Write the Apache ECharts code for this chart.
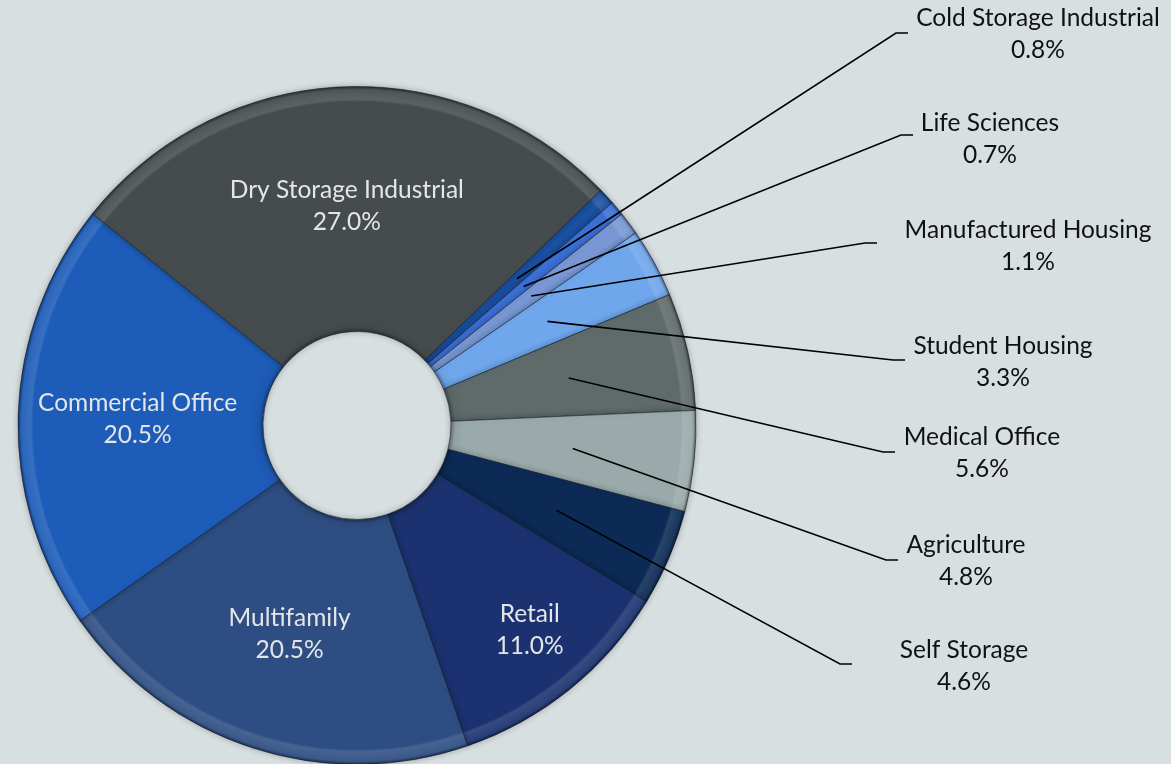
<!DOCTYPE html>
<html>
<head>
<meta charset="utf-8">
<script src="https://cdn.jsdelivr.net/npm/echarts@6/dist/echarts.min.js"></script>
<style>
  html, body { margin: 0; padding: 0; background: #d8dfe1; }
  #chart { width: 1171px; height: 764px; }
</style>
</head>
<body>
<div id="chart"></div>
<script>
// ---- data ----
const categories = ['Cold Storage Industrial', 'Life Sciences', 'Manufactured Housing', 'Student Housing',
  'Medical Office', 'Agriculture', 'Self Storage', 'Retail', 'Multifamily', 'Commercial Office', 'Dry Storage Industrial'];
const values = [0.8, 0.7, 1.1, 3.3, 5.6, 4.8, 4.6, 11.0, 20.5, 20.5, 27.0];

// ---- style / layout ----
const sliceColors = ['#1b51a3', '#3b70d8', '#7897d4', '#6fa6ec', '#5f6a6b', '#9aa9aa', '#0c2a55',
  '#1c3270', '#2e4e83', '#1d5cb9', '#464c4e'];
const insideNames = ['Retail', 'Multifamily', 'Commercial Office', 'Dry Storage Industrial'];
const CX = 357, CY = 425.5, R_IN = 94, R_OUT = 339;
const LINE_START_R = 217;
// outside label anchors: text block centre, line end x and y
const outsideLabelPos = {
  'Cold Storage Industrial': { cx: 1038, cy: 34, endX: 908, lineY: 33 },
  'Life Sciences': { cx: 990, cy: 139, endX: 913, lineY: 135 },
  'Manufactured Housing': { cx: 1028, cy: 246, endX: 877, lineY: 243 },
  'Student Housing': { cx: 1003, cy: 362, endX: 905, lineY: 360 },
  'Medical Office': { cx: 982, cy: 453, endX: 895, lineY: 452 },
  'Agriculture': { cx: 966, cy: 561, endX: 898, lineY: 560 },
  'Self Storage': { cx: 964, cy: 666, endX: 852, lineY: 664 }
};
const insideLabelShift = { 'Retail': { scale: 1.21, dx: 6, dy: -2 } };

function shade(hex, amt) {
  const n = parseInt(hex.slice(1), 16);
  let r = (n >> 16) & 255, g = (n >> 8) & 255, b = n & 255;
  const f = c => Math.max(0, Math.min(255, Math.round(amt >= 0 ? c + (255 - c) * amt : c * (1 + amt))));
  return 'rgb(' + f(r) + ',' + f(g) + ',' + f(b) + ')';
}
function bevel(hex) {
  const k = R_IN / R_OUT;
  return {
    type: 'radial', x: CX, y: CY, r: R_OUT, global: true,
    colorStops: [
      { offset: 0, color: shade(hex, -0.35) },
      { offset: k, color: shade(hex, -0.35) },
      { offset: k + 0.012, color: shade(hex, -0.05) },
      { offset: k + 0.04, color: hex },
      { offset: 0.955, color: hex },
      { offset: 0.962, color: shade(hex, 0.12) },
      { offset: 0.99, color: shade(hex, 0.06) },
      { offset: 1, color: shade(hex, -0.4) }
    ]
  };
}

const chart = echarts.init(document.getElementById('chart'), null, { renderer: 'canvas' });

const sliceData = categories.map((name, i) => ({
  name: name,
  value: values[i],
  itemStyle: { color: bevel(sliceColors[i]) }
}));

const labelData = categories.map((name, i) => {
  const inside = insideNames.indexOf(name) >= 0;
  return {
    name: name,
    value: values[i],
    label: inside
      ? { position: 'inside', color: '#e3e6e7' }
      : { position: 'outside', color: '#111111' },
    labelLine: { show: !inside }
  };
});

chart.setOption({
  backgroundColor: '#d8dfe1',
  animation: false,
  series: [{
    type: 'pie',
    z: 1,
    center: [CX, CY],
    radius: [R_IN, R_OUT],
    startAngle: 44,
    clockwise: true,
    silent: true,
    itemStyle: {
      borderColor: 'rgba(15,25,35,0.55)',
      borderWidth: 1,
      shadowBlur: 6,
      shadowColor: 'rgba(0,0,0,0.25)'
    },
    label: { show: false },
    labelLine: { show: false },
    data: sliceData
  }, {
    type: 'pie',
    z: 3,
    center: [CX, CY],
    radius: [R_IN, R_OUT],
    startAngle: 44,
    clockwise: true,
    silent: true,
    avoidLabelOverlap: false,
    itemStyle: { color: 'rgba(0,0,0,0)', borderWidth: 0 },
    label: {
      show: true,
      fontFamily: 'Lato, "Open Sans", sans-serif',
      fontSize: 24.5,
      lineHeight: 32,
      align: 'center',
      formatter: p => p.name + '\n' + p.value.toFixed(1) + '%'
    },
    labelLine: {
      length: 10,
      length2: 10,
      lineStyle: { color: '#000000', width: 1.6 }
    },
    labelLayout: function (p) {
      const name = categories[p.dataIndex];
      const a = outsideLabelPos[name];
      if (a) {
        const pts = p.labelLinePoints;
        let start;
        if (pts && pts[0]) {
          const dx = pts[0][0] - CX, dy = pts[0][1] - CY;
          const d = Math.hypot(dx, dy) || 1;
          start = [CX + dx / d * LINE_START_R, CY + dy / d * LINE_START_R];
        } else {
          start = [CX, CY];
        }
        return {
          x: a.cx, y: a.cy, align: 'center', verticalAlign: 'middle',
          labelLinePoints: [start, [a.endX - 12, a.lineY], [a.endX, a.lineY]]
        };
      }
      const s = insideLabelShift[name];
      if (s) {
        const r = p.labelRect;
        const mx = r.x + r.width / 2, my = r.y + r.height / 2;
        return {
          x: CX + (mx - CX) * s.scale + s.dx, y: CY + (my - CY) * s.scale + s.dy,
          align: 'center', verticalAlign: 'middle'
        };
      }
    },
    data: labelData
  }]
});
</script>
</body>
</html>
